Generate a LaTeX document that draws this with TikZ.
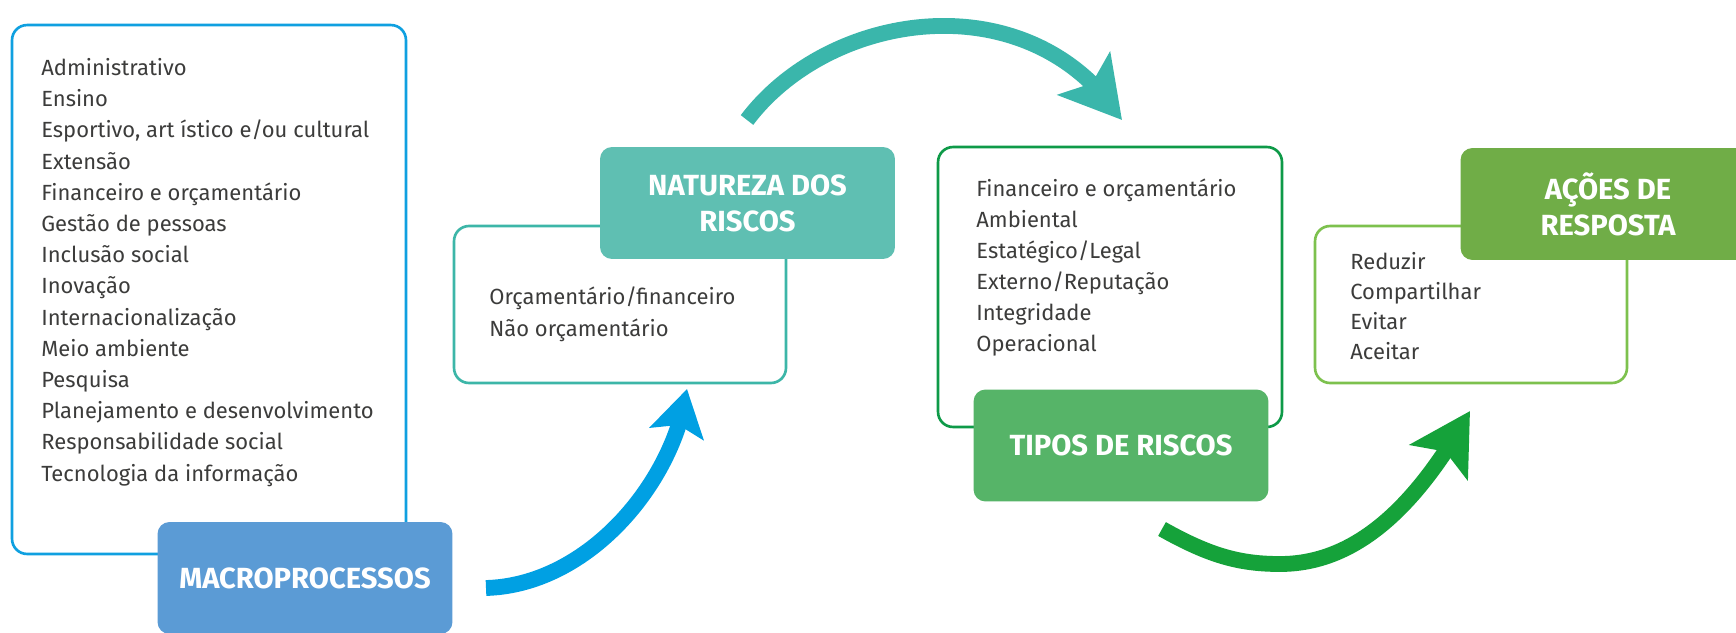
\documentclass[tikz,border=0pt]{standalone}
\usepackage{fontspec}
\setmainfont{Fira Sans}
\usepackage{tikz}
\usetikzlibrary{arrows.meta, bending}
\definecolor{textgray}{HTML}{3C3C3B}
\definecolor{macroline}{HTML}{0FA0E0}
\definecolor{macrofill}{HTML}{5B9BD5}
\definecolor{macroarrow}{HTML}{00A0E3}
\definecolor{naturezaline}{HTML}{3DB6A8}
\definecolor{naturezafill}{HTML}{5FBFB2}
\definecolor{naturezaarrow}{HTML}{3AB6AB}
\definecolor{tiposline}{HTML}{0E9A48}
\definecolor{tiposfill}{HTML}{56B468}
\definecolor{tiposarrow}{HTML}{15A23A}
\definecolor{acoesline}{HTML}{7DC14E}
\definecolor{acoesfill}{HTML}{70AD47}

\begin{document}
\begin{tikzpicture}[x = 0.02cm, y = -0.02cm,
                    listframe/.style = {draw, rounded corners = 0.3cm, line width = 1.5pt, inner sep = 0pt},
                    heading/.style = {rounded corners = 0.24cm, text = white, align = center,
                                      minimum width = 5.9cm, minimum height = 2.24cm, inner sep = 0pt,
                                      font = \fontsize{16.6}{20.5}\selectfont\bfseries},
                    listitem/.style = {anchor = base west, inner sep = 0pt, text = textgray,
                                       font = \fontsize{12.5}{17}\selectfont},
                    flowarrow/.style = {line width = 9pt, -{Stealth[length = 34pt, width = 38pt, inset = 7pt, flex]}}]
            \useasboundingbox (0,0) rectangle (1736,632);
            \clip (0,0) rectangle (1736,632);
            \fill [white] (0,0) rectangle (1736,632);

            % Draw the frames of the lists:
            \node [listframe, draw = macroline, minimum width = 7.88cm, minimum height = 10.58cm] (macroframe) at (209,289.5) {};
            \node [listframe, draw = naturezaline, minimum width = 6.64cm, minimum height = 3.14cm] (naturezaframe) at (620,304.5) {};
            \node [listframe, draw = tiposline, minimum width = 6.88cm, minimum height = 5.6cm] (tiposframe) at (1110,287) {};
            \node [listframe, draw = acoesline, minimum width = 6.24cm, minimum height = 3.14cm] (acoesframe) at (1471,304.5) {};

            % Draw the headings:
            \node [heading, fill = macrofill] (macrohead) at (305,578) {MACROPROCESSOS};
            \node [heading, fill = naturezafill] (naturezahead) at (747.5,203) {NATUREZA DOS\\RISCOS};
            \node [heading, fill = tiposfill] (tiposhead) at (1121,445.5) {TIPOS DE RISCOS};
            \node [heading, fill = acoesfill] (acoeshead) at (1608,204) {AÇÕES DE\\RESPOSTA};

            % Draw the list entries:
            \foreach \index/\entry in {0/Administrativo, 1/Ensino, 2/{Esportivo, art ístico e/ou cultural}, 3/Extensão,
                                       4/Financeiro e orçamentário, 5/Gestão de pessoas, 6/Inclusão social, 7/Inovação,
                                       8/Internacionalização, 9/Meio ambiente, 10/Pesquisa, 11/Planejamento e desenvolvimento,
                                       12/Responsabilidade social, 13/Tecnologia da informação}
                \node [listitem] (macro-\index) at (41,75.5+31.2*\index) {\entry};
            \foreach \index/\entry in {0/{Orçamentário/financeiro}, 1/Não orçamentário}
                \node [listitem] (natureza-\index) at (489,304+32*\index) {\entry};
            \foreach \index/\entry in {0/Financeiro e orçamentário, 1/Ambiental, 2/{Estatégico/Legal},
                                       3/{Externo/Reputação}, 4/Integridade, 5/Operacional}
                \node [listitem] (tipos-\index) at (976,196.5+31*\index) {\entry};
            \foreach \index/\entry in {0/Reduzir, 1/Compartilhar, 2/Evitar, 3/Aceitar}
                \node [listitem] (acoes-\index) at (1350,269+30*\index) {\entry};

            % Draw the arrows between the steps:
            \coordinate (macro-tail) at (486,588);
            \coordinate (macro-tip) at (687,389);
            \coordinate (natureza-tail) at (747,120);
            \coordinate (natureza-tip) at (1122,120);
            \coordinate (tipos-tail) at (1162,529);
            \coordinate (tipos-low) at (1280,564);
            \coordinate (tipos-tip) at (1470,411);
            \draw [flowarrow, macroarrow, -{Stealth[length = 26pt, width = 31pt, inset = 5pt, flex]}]
                (macro-tail) .. controls (590,585) and (675,480) .. (macro-tip);
            \draw [flowarrow, naturezaarrow]
                (natureza-tail) .. controls (830,10) and (1030,-20) .. (natureza-tip);
            \draw [flowarrow, tiposarrow]
                (tipos-tail) .. controls (1210,556) and (1240,564) .. (tipos-low)
                .. controls (1360,564) and (1420,500) .. (tipos-tip);
        \end{tikzpicture}
\end{document}
